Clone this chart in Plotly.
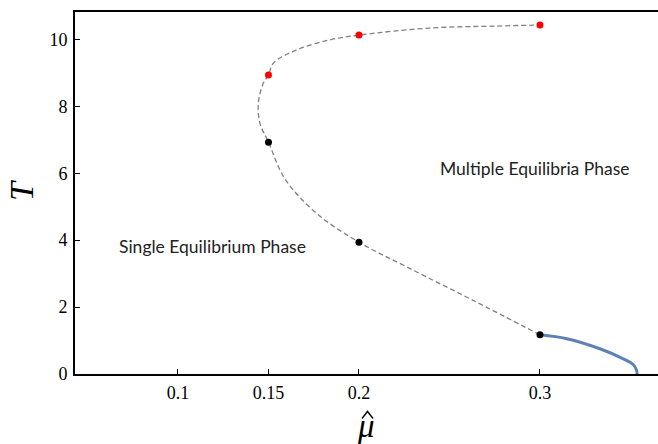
import plotly.graph_objects as go

# Boundary of the multiple-equilibria region (unstable branch, dashed)
boundary_mu = [0.300, 0.2631, 0.2264, 0.200, 0.1766, 0.1590, 0.150, 0.1453,
               0.1444, 0.1471, 0.150, 0.1527, 0.1656, 0.1840, 0.200, 0.2392,
               0.2761, 0.300]
boundary_T = [1.17, 2.20, 3.20, 3.94, 4.80, 5.84, 6.93, 7.49,
              8.09, 8.69, 8.94, 9.29, 9.69, 9.99, 10.13, 10.34,
              10.40, 10.43]

# Continuous transition line (solid)
transition_mu = [0.300, 0.3148, 0.3331, 0.3460, 0.3515, 0.3534, 0.3536]
transition_T = [1.17, 1.054, 0.754, 0.454, 0.284, 0.105, 0.0]

# Sampled points on lower and upper branches
lower_mu = [0.15, 0.20, 0.30]
lower_T = [6.93, 3.94, 1.17]
upper_mu = [0.15, 0.20, 0.30]
upper_T = [8.94, 10.13, 10.43]

x_ticks = [0.1, 0.15, 0.2, 0.3]
y_ticks = [0, 2, 4, 6, 8, 10]

# Plot-area geometry in pixels (used to place the axis titles)
W, H = 658, 444
L, R, T, B = 75, 0, 12, 70
PW, PH = W - L - R, H - T - B


def px(x):
    return (x - L) / PW


def py(y):
    return (H - B - y) / PH


fig = go.Figure()
fig.add_trace(go.Scatter(x=boundary_mu, y=boundary_T, mode="lines",
                         line=dict(color="#808080", width=1.3, dash="5px,3px", shape="spline"),
                         showlegend=False))
fig.add_trace(go.Scatter(x=transition_mu, y=transition_T, mode="lines",
                         line=dict(color="#5E81B5", width=3, shape="spline"),
                         showlegend=False, cliponaxis=False))
fig.add_trace(go.Scatter(x=lower_mu, y=lower_T, mode="markers",
                         marker=dict(color="black", size=7), showlegend=False))
fig.add_trace(go.Scatter(x=upper_mu, y=upper_T, mode="markers",
                         marker=dict(color="red", size=7), showlegend=False))

label_font = dict(family="Lato, Open Sans, sans-serif", size=17.5, color="#222222")
fig.add_annotation(x=0.1188, y=3.8, text="Single Equilibrium Phase", showarrow=False,
                   font=label_font, xanchor="center", yanchor="middle")
fig.add_annotation(x=0.2972, y=6.14, text="Multiple Equilibria Phase", showarrow=False,
                   font=label_font, xanchor="center", yanchor="middle")

# Axis titles: italic T, and italic mu with a hat drawn as a small caret
fig.add_annotation(xref="paper", yref="paper", x=px(366), y=py(425.5),
                   text="<i>μ</i>", showarrow=False, borderpad=0,
                   font=dict(family="Liberation Serif, serif", size=33, color="black"),
                   xanchor="center", yanchor="middle")
fig.add_shape(type="path", xref="paper", yref="paper",
              path=f"M {px(362)},{py(418.5)} L {px(367.5)},{py(411.5)} L {px(373)},{py(418.5)}",
              line=dict(color="black", width=1.4))
fig.add_annotation(xref="paper", yref="paper", x=px(21), y=py(191),
                   text="<i>T</i>", showarrow=False, textangle=-90,
                   font=dict(family="Liberation Serif, serif", size=34, color="black"),
                   xanchor="center", yanchor="middle")

tick_font = dict(family="Liberation Serif, serif", size=18, color="black")
fig.update_layout(
    width=W, height=H,
    margin=dict(l=L, r=R, t=T, b=B),
    paper_bgcolor="white", plot_bgcolor="white",
    font=dict(family="Liberation Serif, serif", color="black"),
    xaxis=dict(range=[0.0431, 0.3652], tickvals=x_ticks,
               ticktext=[str(v) for v in x_ticks],
               ticks="inside", ticklen=5, tickwidth=1.2, tickcolor="black",
               showline=True, linecolor="black", linewidth=2, mirror=True,
               showgrid=False, zeroline=False, tickfont=tick_font,
               ticklabelstandoff=1),
    yaxis=dict(range=[0, 10.82], tickvals=y_ticks,
               ticks="inside", ticklen=5, tickwidth=1.2, tickcolor="black",
               showline=True, linecolor="black", linewidth=2,
               showgrid=False, zeroline=False, tickfont=tick_font,
               ticklabelstandoff=2),
)

fig.write_html("out.html")
